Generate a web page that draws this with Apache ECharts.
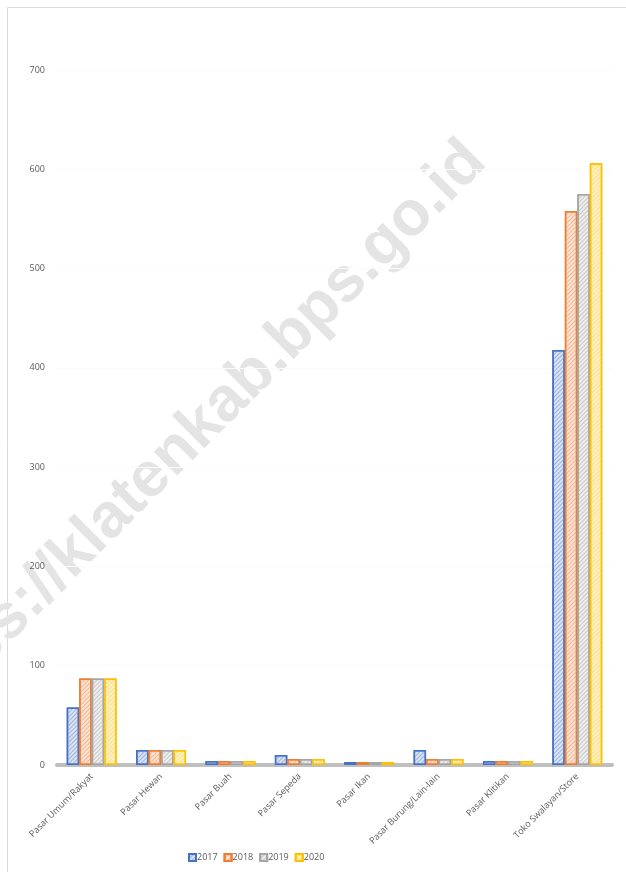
<!DOCTYPE html>
<html>
<head>
<meta charset="utf-8">
<script src="https://cdn.jsdelivr.net/npm/echarts@6/dist/echarts.min.js"></script>
<style>html,body{margin:0;padding:0;background:#fff}#c{width:626px;height:872px}</style>
</head>
<body>
<div id="c"></div>
<script>
const categories = ['Pasar Umum/Rakyat','Pasar Hewan','Pasar Buah','Pasar Sepeda','Pasar Ikan','Pasar Burung/Lain-lain','Pasar Klitikan','Toko Swalayan/Store'];
const seriesNames = ['2017','2018','2019','2020'];
const v2017 = [58, 15, 4, 10, 3, 15, 4, 418];
const v2018 = [87, 15, 4, 6, 3, 6, 4, 558];
const v2019 = [87, 15, 4, 6, 3, 6, 4, 575];
const v2020 = [87, 15, 4, 6, 3, 6, 4, 606];
const yTicks = [0,100,200,300,400,500,600,700];

const values = [v2017, v2018, v2019, v2020];
const border = ['#4472C4','#ED7D31','#A5A5A5','#FFC000'];
const fill = ['#dae3f3','#fce4d6','#ededed','#fff2cc'];
const stripe = ['#9db4e0','#f5b58c','#c9c9c9','#ffdd70'];

const chart = echarts.init(document.getElementById('c'), null, {renderer:'canvas'});
chart.setOption({
  backgroundColor:'#fff',
  animation:false,
  graphic:[
    {type:'rect', z:-10, shape:{x:7.5,y:7.5,width:700,height:900}, style:{fill:'none',stroke:'#d9d9d9',lineWidth:1}},
    {type:'text', z:-5, x:194, y:434, rotation:Math.PI/4,
     style:{text:'https://klatenkab.bps.go.id', fill:'#e4e4e4', font:'bold 63px "Liberation Sans", Arial, sans-serif', align:'center', verticalAlign:'middle'}}
  ],
  grid:{left:57, right:14, top:70, height:695, containLabel:false},
  legend:{
    data:seriesNames, bottom:5, left:183, itemWidth:7, itemHeight:7, itemGap:6, icon:'rect',
    textStyle:{fontSize:9, color:'#595959', fontFamily:'"Open Sans", sans-serif', padding:[0,0,0,-4]}
  },
  xAxis:{
    type:'category', data:categories,
    axisLine:{show:true, lineStyle:{color:'#bfbfbf', width:4}},
    axisTick:{show:false},
    axisLabel:{rotate:45, fontSize:9, color:'#595959', margin:10, interval:0, fontFamily:'"Open Sans", sans-serif'}
  },
  yAxis:{
    type:'value', min:0, max:700, interval:100,
    axisLine:{show:false}, axisTick:{show:false},
    splitLine:{show:true, lineStyle:{color:'#fafafa'}},
    axisLabel:{fontSize:9, color:'#595959', margin:12, fontFamily:'"Open Sans", sans-serif',
      formatter:function(v){return yTicks.indexOf(v)>=0 ? String(v) : '';}}
  },
  series: seriesNames.map(function(n,i){
    return {
      name:n, type:'bar', data:values[i], barGap:'0%', barCategoryGap:'28%',
      itemStyle:{
        color:fill[i], borderColor:border[i], borderWidth:1.5,
        decal:{symbol:'rect', dashArrayX:[1,0], dashArrayY:[1,2], rotation:-Math.PI/4, color:stripe[i], symbolSize:1}
      }
    };
  })
});
</script>
</body>
</html>
